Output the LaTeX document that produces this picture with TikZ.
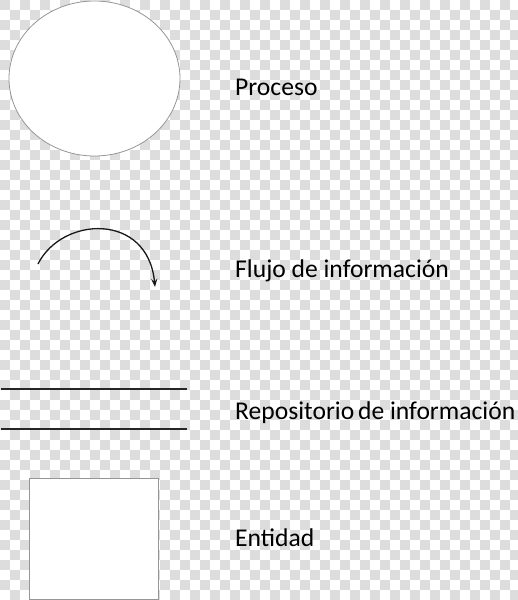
\documentclass[tikz,border=0pt]{standalone}
\usepackage{fontspec}
\setmainfont{Carlito}
\usetikzlibrary{shapes.geometric,arrows.meta}
\definecolor{checker}{RGB}{221,221,221}
\definecolor{outline}{RGB}{150,150,150}
\begin{document}
\begin{tikzpicture}[x=1pt,y=-1pt,
				proceso/.style={ellipse, draw=outline, fill=white, line width=0.8pt, minimum width=171pt, minimum height=155pt, inner sep=0pt},
				entidad/.style={rectangle, draw=outline, fill=white, line width=0.8pt, minimum width=129pt, minimum height=121pt, inner sep=0pt},
				repo/.style={draw=black!85, line width=1.4pt},
				flujo/.style={draw=black!90, line width=1.3pt, -{Stealth[length=8pt,width=6pt]}},
				legend/.style={anchor=base west, inner sep=0pt, font=\fontsize{25.6}{30}\selectfont}
				]
			% background
			\useasboundingbox (0,0) rectangle (518,600);
			\fill[white] (0,0) rectangle (518,600);
			\foreach \i in {0,...,51}{
				\foreach \j in {0,...,59}{
					\pgfmathtruncatemacro{\cellpar}{mod(\i+\j,2)}
					\ifnum\cellpar=0 \fill[checker] (10*\i,10*\j) rectangle ++(10,10); \fi
				}
			}
			% symbols
			\node [proceso] (proc) at (94.5,78.5) {};
			\coordinate (fstart) at (38,264);
			\coordinate (fend) at (155,287);
			\draw [flujo] (fstart) .. controls (62,216) and (148,212) .. (fend);
			\draw [repo] (1,389) -- (187,389);
			\draw [repo] (1,429) -- (187,429);
			\node [entidad] (ent) at (93.5,538.5) {};
			% texts
			\node [legend] (tproc) at (235,95) {Proceso};
			\node [legend] (tflujo) at (235,277) {Flujo de información};
			\node [legend] (trepo) at (235,419) {Repositorio\hspace{-2pt} de información};
			\node [legend] (tent) at (235,546) {Entidad};
\end{tikzpicture}
\end{document}
